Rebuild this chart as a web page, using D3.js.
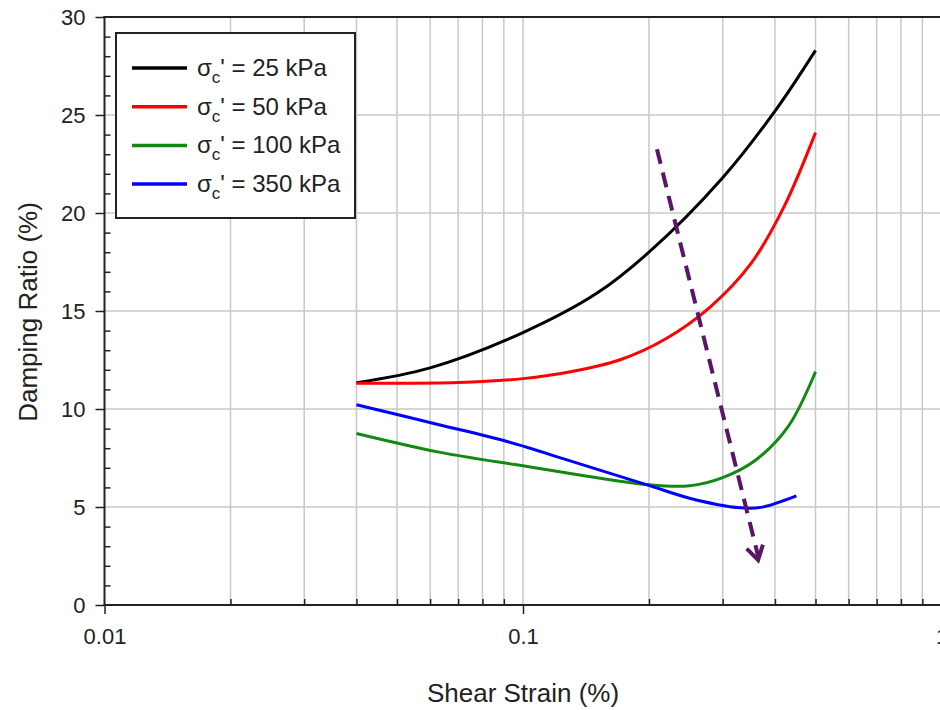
<!DOCTYPE html>
<html>
<head>
<meta charset="utf-8">
<script src="https://cdn.jsdelivr.net/npm/d3@7"></script>
<style>
  body { margin: 0; background: #fff; }
  svg { display: block; font-family: "Liberation Sans", Arial, sans-serif; }
</style>
</head>
<body>
<svg id="chart" width="940" height="710"></svg>
<script>
// shear strain (%) and damping ratio (%)
var strain25 = [0.04, 0.06, 0.1, 0.15, 0.2, 0.3, 0.4, 0.5];
var damp25   = [11.34, 12.1, 13.9, 15.9, 18.0, 21.8, 25.2, 28.3];

var strain50 = [0.04, 0.07, 0.1, 0.13, 0.17, 0.22, 0.28, 0.35, 0.42, 0.5];
var damp50   = [11.32, 11.35, 11.55, 11.9, 12.5, 13.6, 15.2, 17.4, 20.3, 24.1];

var strain100 = [0.04, 0.063, 0.1, 0.2, 0.25, 0.3, 0.36, 0.43, 0.5];
var damp100   = [8.75, 7.8, 7.1, 6.13, 6.08, 6.5, 7.4, 9.1, 11.9];

var strain350 = [0.04, 0.063, 0.092, 0.132, 0.198, 0.25, 0.33, 0.37, 0.45];
var damp350   = [10.22, 9.2, 8.33, 7.3, 6.13, 5.45, 4.96, 4.98, 5.57];

var seriesNames  = ["25 kPa", "50 kPa", "100 kPa", "350 kPa"];
var seriesColors = ["#000000", "#ff0000", "#128a12", "#0000ff"];

// dashed trend arrow (strain, damping)
var arrowStrain = [0.209, 0.3645];
var arrowDamp   = [23.25, 2.3];

var xTickValues = [0.01, 0.1, 1];
var xTickLabels = ["0.01", "0.1", "1"];
var yTickValues = [0, 5, 10, 15, 20, 25, 30];

var svg = d3.select("#chart");

var x = d3.scaleLog().domain([0.01, 1]).range([104.5, 941.5]);
var y = d3.scaleLinear().domain([0, 30]).range([605, 17]);

var gridColor = "#c8c8c8";

// minor log positions for vertical grid
var minorX = [];
[0.01, 0.1].forEach(function(dec) {
  for (var k = 2; k <= 9; k++) minorX.push(dec * k);
});
var gridX = minorX.concat([0.1]);

svg.append("g").selectAll("line").data(gridX).enter().append("line")
  .attr("x1", function(d) { return x(d) }).attr("x2", function(d) { return x(d) })
  .attr("y1", y(0)).attr("y2", y(30))
  .attr("stroke", gridColor).attr("stroke-width", 1.5);

svg.append("g").selectAll("line").data([5, 10, 15, 20, 25]).enter().append("line")
  .attr("x1", x(0.01)).attr("x2", 940)
  .attr("y1", function(d) { return y(d) }).attr("y2", function(d) { return y(d) })
  .attr("stroke", gridColor).attr("stroke-width", 1.5);

// axes
var yMinor = d3.range(0, 31).filter(function(d) { return d % 5 != 0 });
var axisColor = "#222";

var yAxis = svg.append("g").attr("transform", "translate(" + x(0.01) + ",0)")
  .call(d3.axisLeft(y).tickValues(yTickValues).tickSize(9).tickPadding(10).tickFormat(d3.format("d")));
var yMinorAxis = svg.append("g").attr("transform", "translate(" + x(0.01) + ",0)")
  .call(d3.axisRight(y).tickValues(yMinor).tickSize(6).tickFormat(""));

var xAxis = svg.append("g").attr("transform", "translate(0," + y(0) + ")")
  .call(d3.axisBottom(x).tickValues(xTickValues).tickSize(9).tickPadding(14)
    .tickFormat(function(d, i) { return xTickLabels[i] }));
var xMinorAxis = svg.append("g").attr("transform", "translate(0," + y(0) + ")")
  .call(d3.axisTop(x).tickValues(minorX).tickSize(6).tickFormat(""));

[yAxis, yMinorAxis, xAxis, xMinorAxis].forEach(function(g) {
  g.select(".domain").remove();
  g.selectAll("line").attr("stroke", axisColor).attr("stroke-width", 1.5);
  g.selectAll("text").attr("fill", "#222").attr("font-size", 22)
    .attr("font-family", "Liberation Sans, Arial, sans-serif");
});
yAxis.selectAll("text").attr("dy", "0.36em");

// axis lines
svg.append("line").attr("x1", x(0.01)).attr("x2", x(0.01)).attr("y1", y(30) - 1).attr("y2", y(0) + 1)
  .attr("stroke", axisColor).attr("stroke-width", 2);
svg.append("line").attr("x1", x(0.01) - 1).attr("x2", 940).attr("y1", y(0)).attr("y2", y(0))
  .attr("stroke", axisColor).attr("stroke-width", 2);
svg.append("line").attr("x1", x(0.01) - 1).attr("x2", 940).attr("y1", y(30)).attr("y2", y(30))
  .attr("stroke", axisColor).attr("stroke-width", 2);

// axis titles
svg.append("text").attr("x", 523).attr("y", 702).attr("text-anchor", "middle")
  .attr("font-size", 26).attr("fill", "#222").text("Shear Strain (%)");
svg.append("text").attr("transform", "translate(37,312) rotate(-90)").attr("text-anchor", "middle")
  .attr("font-size", 26).attr("fill", "#222").text("Damping Ratio (%)");

// curves
var allStrain = [strain25, strain50, strain100, strain350];
var allDamp = [damp25, damp50, damp100, damp350];
var series = allStrain.map(function(s, i) {
  return s.map(function(v, j) { return { x: v, y: allDamp[i][j] } });
});

var line = d3.line()
  .x(function(d) { return x(d.x) })
  .y(function(d) { return y(d.y) })
  .curve(d3.curveCatmullRom.alpha(0.5));

svg.append("g").selectAll("path").data(series).enter().append("path")
  .attr("d", line)
  .attr("fill", "none")
  .attr("stroke", function(d, i) { return seriesColors[i] })
  .attr("stroke-width", 3);

// dashed arrow
var arrowColor = "#5a1468";
var ax0 = x(arrowStrain[0]), ay0 = y(arrowDamp[0]);
var ax1 = x(arrowStrain[1]), ay1 = y(arrowDamp[1]);
svg.append("line")
  .attr("x1", ax0).attr("y1", ay0).attr("x2", ax1).attr("y2", ay1 - 4)
  .attr("stroke", arrowColor).attr("stroke-width", 4)
  .attr("stroke-dasharray", "15,9");
var ang = Math.atan2(ay1 - ay0, ax1 - ax0);
var headLen = 16, spread = 0.55;
var head = [
  [ax1 - headLen * Math.cos(ang - spread), ay1 - headLen * Math.sin(ang - spread)],
  [ax1, ay1],
  [ax1 - headLen * Math.cos(ang + spread), ay1 - headLen * Math.sin(ang + spread)]
];
svg.append("path").attr("d", d3.line()(head))
  .attr("fill", "none").attr("stroke", arrowColor).attr("stroke-width", 4)
  .attr("stroke-linejoin", "miter");

// legend
var legend = svg.append("g");
legend.append("rect").attr("x", 116).attr("y", 33).attr("width", 239).attr("height", 185)
  .attr("fill", "#fff").attr("stroke", "#222").attr("stroke-width", 2);

var entries = legend.selectAll("g.entry").data(seriesNames).enter().append("g")
  .attr("class", "entry")
  .attr("transform", function(d, i) { return "translate(0," + (68 + i * 38.7) + ")" });
entries.append("line").attr("x1", 132).attr("x2", 187).attr("y1", 0).attr("y2", 0)
  .attr("stroke", function(d, i) { return seriesColors[i] }).attr("stroke-width", 3.5);
var lt = entries.append("text").attr("x", 197).attr("y", 8).attr("font-size", 24).attr("fill", "#222");
lt.append("tspan").text("σ");
lt.append("tspan").attr("dy", 7).attr("font-size", 17).text("c");
lt.append("tspan").attr("dy", -7).text(function(d) { return "' = " + d });
</script>
</body>
</html>
